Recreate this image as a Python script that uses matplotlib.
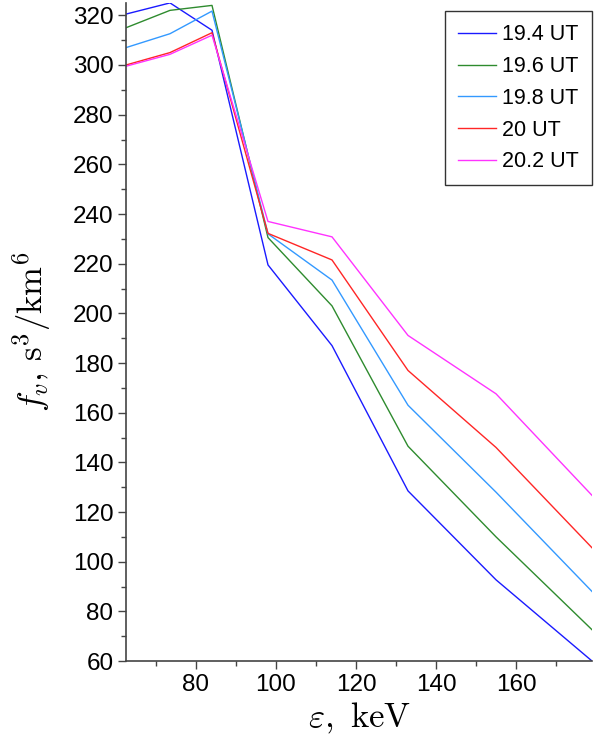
import matplotlib
matplotlib.use("Agg")
import matplotlib.pyplot as plt
from matplotlib.ticker import MultipleLocator

plt.rcParams['mathtext.fontset'] = 'cm'
plt.rcParams['font.family'] = ['Liberation Sans', 'DejaVu Sans']

energy = [62.5, 73.5, 84, 98, 114, 133, 155, 179]
labels = ["19.4 UT", "19.6 UT", "19.8 UT", "20 UT", "20.2 UT"]
colors = ["#1a1aff", "#2e8b2e", "#3399ff", "#ff2626", "#ff33ff"]
f_194 = [320.5, 325, 314, 219.5, 187, 128.5, 92.7, 60]
f_196 = [315, 322, 324, 230.5, 203, 146.5, 110, 72.6]
f_198 = [307, 312.6, 321.7, 232, 213.4, 163, 128, 88]
f_200 = [300, 305, 313, 232.2, 221.5, 177, 146, 105.6]
f_202 = [299.5, 304.3, 312, 237, 230.8, 191.1, 167.6, 126.7]
series = [f_194, f_196, f_198, f_200, f_202]

fig = plt.figure(figsize=(5.96, 7.47), dpi=100)
ax = fig.add_axes([0.2114, 0.1151, 0.7819, 0.881])
for ys, c, lab in zip(series, colors, labels):
    ax.plot(energy, ys, color=c, lw=1.0, label=lab)

ax.set_xlim(62.5, 179)
ax.set_ylim(60, 325)
ax.xaxis.set_major_locator(MultipleLocator(20))
ax.xaxis.set_minor_locator(MultipleLocator(10))
ax.yaxis.set_major_locator(MultipleLocator(20))
ax.yaxis.set_minor_locator(MultipleLocator(10))
for s in ['top', 'right']:
    ax.spines[s].set_visible(False)
for s in ['left', 'bottom']:
    ax.spines[s].set_color('#444444')
    ax.spines[s].set_linewidth(1.2)
ax.tick_params(which='major', direction='out', length=6, width=1, colors='#444444',
               labelcolor='black', labelsize=17.5, pad=3)
ax.tick_params(which='minor', direction='out', length=3.5, width=1, colors='#444444')

ax.set_xlabel(r'$\varepsilon,\ \mathrm{keV}$', fontsize=25, labelpad=4)
ax.set_ylabel(r'$f_v,\, \mathrm{s}^3/\mathrm{km}^6$', fontsize=25, labelpad=14)

leg = ax.legend(loc='upper right', bbox_to_anchor=(1.0, 0.987), borderaxespad=0, fontsize=15.5,
                frameon=True, fancybox=False, edgecolor='#333333', framealpha=1,
                handlelength=1.75, handletextpad=0.3, borderpad=0.6, labelspacing=0.5)
leg.get_frame().set_linewidth(1.0)

fig.savefig('out.png', dpi=100)
